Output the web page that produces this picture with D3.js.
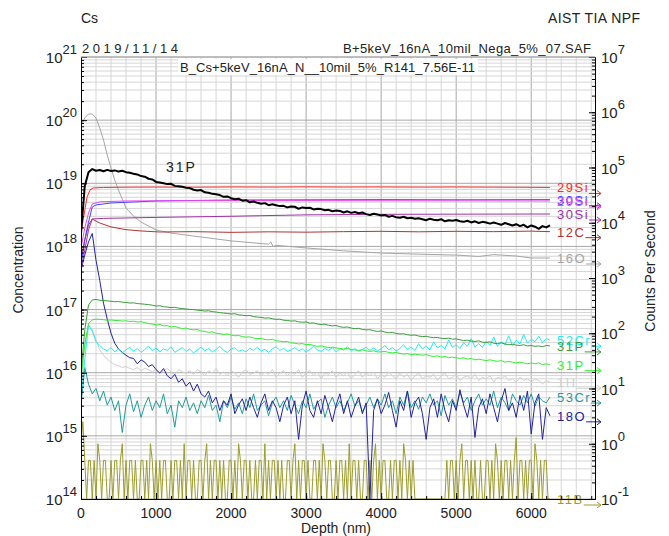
<!DOCTYPE html>
<html>
<head>
<meta charset="utf-8">
<script src="https://cdn.jsdelivr.net/npm/d3@7"></script>
<style>
body { margin: 0; background: #fff; }
text { font-family: "Liberation Sans", Arial, sans-serif; fill: #222; }
</style>
</head>
<body>
<svg id="chart" width="669" height="536"></svg>
<script>
// ---- data ----
// noisy series sampled every 50 nm from 0 to 6250 nm
var gridDepth = d3.range(0, 6251, 50);
// 11B sampled every 25 nm
var boronDepth = d3.range(0, 6251, 25);

// 31P concentration (atoms/cm3), left axis
var p31Conc = [1.6e18, 9e18, 1.5e19, 1.68e19, 1.58e19, 1.62e19, 1.55e19, 1.63e19, 1.57e19, 1.6e19,
  1.54e19, 1.58e19, 1.5e19, 1.47e19, 1.42e19, 1.38e19, 1.3e19, 1.27e19, 1.18e19, 1.15e19,
  1.05e19, 1.03e19, 1.0e19, 9.7e18, 9.8e18, 9.1e18, 9.0e18, 8.8e18, 8.5e18, 8.4e18,
  7.9e18, 7.7e18, 7.8e18, 7.2e18, 7.1e18, 6.8e18, 6.7e18, 6.5e18, 6.1e18, 6.2e18,
  5.8e18, 5.6e18, 5.7e18, 5.3e18, 5.4e18, 5.0e18, 5.15e18, 4.9e18, 4.75e18, 4.85e18,
  4.5e18, 4.65e18, 4.5e18, 4.35e18, 4.4e18, 4.15e18, 4.3e18, 4.25e18, 3.95e18, 4.15e18,
  4.05e18, 4.1e18, 3.85e18, 3.95e18, 3.9e18, 3.75e18, 3.8e18, 3.6e18, 3.7e18, 3.65e18,
  3.45e18, 3.6e18, 3.4e18, 3.5e18, 3.35e18, 3.45e18, 3.25e18, 3.15e18, 3.3e18, 3.2e18,
  3.1e18, 3.15e18, 2.95e18, 3.05e18, 2.9e18, 2.85e18, 2.95e18, 2.8e18, 2.85e18, 2.75e18,
  2.8e18, 2.7e18, 2.6e18, 2.75e18, 2.65e18, 2.6e18, 2.7e18, 2.5e18, 2.6e18, 2.55e18,
  2.62e18, 2.5e18, 2.45e18, 2.55e18, 2.4e18, 2.5e18, 2.35e18, 2.45e18, 2.4e18, 2.3e18,
  2.4e18, 2.3e18, 2.2e18, 2.35e18, 2.25e18, 2.15e18, 2.25e18, 2.1e18, 2.2e18, 2.0e18,
  2.15e18, 2.05e18, 1.9e18, 2.1e18, 2.0e18, 2.15e18];

// counts per second, right axis
var si29aDepth = [0, 40, 80, 120, 160, 300, 600, 1000, 1500, 2000, 2500, 3000, 3500, 4000, 4500, 5000, 5500, 6000, 6250];
var si29a = [6500, 13800, 29000, 39000, 42600, 43500, 44000, 44300, 44000, 44500, 44200, 44600, 44300, 44500, 44200, 44400, 44100, 43800, 43500];

var si30aDepth = [0, 50, 100, 150, 200, 400, 1000, 2000, 3000, 4000, 5000, 6250];
var si30a = [1700, 4900, 10300, 19300, 21000, 22800, 24800, 25800, 26000, 26200, 26000, 26200];

var si29bDepth = [0, 50, 100, 150, 250, 600, 2000, 4000, 6250];
var si29b = [3500, 8000, 15000, 21900, 23900, 24800, 25300, 25000, 24800];

var si30bDepth = [0, 50, 100, 150, 300, 1000, 2000, 3000, 4000, 5000, 6250];
var si30b = [1400, 3200, 7400, 11700, 12000, 12500, 13100, 13900, 14200, 14300, 14400];

var c12Depth = [0, 50, 100, 150, 200, 250, 400, 600, 800, 1050, 1500, 2000, 2500, 3000, 3500, 4000, 4500, 5000, 5500, 6000, 6250];
var c12 = [2100, 4900, 9100, 11700, 10700, 9900, 8400, 7500, 7100, 6800, 6900, 6700, 6850, 6750, 6900, 7000, 6850, 7000, 6900, 7050, 6900];

var o16Depth = [0, 50, 100, 150, 200, 250, 300, 350, 400, 450, 500, 600, 700, 800, 1000, 1200, 1500, 2000, 2400, 2500,
  2530, 2560, 2600, 2800, 3000, 3500, 4000, 4500, 5000, 5300, 5500, 5800, 6000, 6250];
var o16 = [587000, 787000, 929000, 929000, 787000, 519000, 315000, 168000, 98000, 59000, 39000, 18500, 13200, 10300, 7400, 6500, 5750, 4700, 4200, 4100,
  4500, 3700, 3900, 3700, 3500, 3100, 2830, 2700, 2600, 2450, 2650, 2500, 2300, 2300];

var p31a = [19, 115, 324, 400, 410, 395, 392, 385, 380, 372,
  375, 365, 360, 352, 355, 345, 340, 335, 330, 322,
  311, 315, 302, 298, 292, 295, 284, 280, 275, 270,
  268, 262, 258, 252, 255, 246, 242, 236, 232, 228,
  223, 226, 215, 212, 208, 210, 200, 196, 194, 188,
  190, 183, 178, 180, 172, 170, 166, 168, 161, 158,
  160, 152, 154, 147, 144, 146, 139, 136, 138, 131,
  128, 130, 124, 121, 123, 117, 115, 116, 111, 108,
  110, 105, 102, 104, 99, 97, 98, 94, 92, 93,
  89, 87, 88, 85, 83, 84, 81, 80, 82, 78,
  79, 76, 74, 75, 72, 71, 73, 69, 68, 70,
  66, 65, 67, 64, 62, 63, 61, 60, 62, 59,
  60, 58, 59, 57, 60, 59];

var p31b = [16, 62, 150, 174, 180, 178, 176, 172, 174, 170,
  170, 166, 168, 163, 165, 160, 162, 156, 150, 147,
  141, 144, 136, 138, 130, 133, 126, 122, 124, 118,
  115, 117, 110, 108, 104, 106, 100, 98, 95, 97,
  93, 90, 91, 87, 85, 86, 82, 80, 81, 77,
  76, 78, 73, 72, 70, 71, 67, 66, 64, 65,
  62, 63, 60, 58, 59, 57, 55, 56, 54, 53,
  52, 53, 51, 50, 49, 50, 48, 47, 48, 46,
  46, 47, 45, 44, 45, 43, 42, 43, 41, 42,
  41, 40, 41, 39, 38, 39, 37, 38, 36, 37,
  36, 35, 36, 34, 35, 33, 34, 33, 32, 33,
  32, 31, 32, 30, 31, 30, 29, 30, 29, 28,
  29, 28, 29, 27, 28, 27];

var cr52 = [7, 33, 140, 110, 70, 60, 52, 48, 55, 46,
  52, 44, 50, 56, 47, 53, 45, 51, 58, 48,
  54, 46, 52, 49, 57, 45, 50, 55, 47, 52,
  44, 50, 56, 48, 53, 46, 51, 58, 49, 45,
  52, 55, 47, 50, 46, 53, 49, 56, 48, 51,
  45, 52, 57, 49, 53, 47, 50, 55, 48, 52,
  46, 51, 58, 50, 47, 53, 49, 55, 46, 52,
  50, 57, 48, 53, 47, 51, 56, 49, 54, 48,
  52, 60, 50, 55, 48, 53, 62, 51, 56, 49,
  65, 52, 58, 50, 70, 54, 60, 52, 75, 55,
  62, 53, 68, 58, 80, 56, 65, 55, 72, 60,
  85, 58, 70, 62, 90, 60, 75, 64, 95, 66,
  78, 70, 88, 68, 80, 75];

var h1 = [10, 60, 140, 120, 75, 50, 40, 34, 30, 27,
  26, 24, 25, 23, 22, 24, 21, 23, 22, 20,
  22, 19, 21, 23, 20, 18, 22, 20, 19, 21,
  18, 22, 20, 17, 21, 19, 23, 18, 20, 17,
  21, 19, 16, 20, 22, 18, 19, 21, 17, 20,
  18, 22, 16, 19, 21, 17, 20, 18, 22, 16,
  19, 21, 17, 20, 15, 19, 18, 21, 16, 19,
  17, 20, 15, 18, 21, 16, 19, 17, 20, 15,
  18, 16, 20, 17, 15, 19, 16, 18, 14, 17,
  19, 15, 17, 16, 18, 14, 17, 19, 15, 16,
  18, 14, 16, 17, 15, 18, 14, 16, 15, 17,
  13, 16, 15, 17, 14, 15, 13, 16, 14, 15,
  13, 15, 14, 12, 14, 13];

var cr53 = [5, 24, 12, 8, 10, 6, 9, 5, 7, 4,
  6, 1.6, 5, 8, 3.8, 6, 3, 5, 7, 4,
  6, 4.5, 8, 3.5, 5, 2, 6, 4.5, 7, 4,
  5.5, 3.5, 6, 4.5, 7.5, 4, 5, 2.5, 6, 4.5,
  7, 4.2, 5.5, 3.5, 6.5, 4.5, 8, 4, 5, 6,
  3.2, 5.5, 7, 4.5, 6, 4, 7.5, 5, 3.5, 6,
  4.5, 8, 4.2, 5.5, 6.5, 3, 5, 7, 4.5, 6,
  4, 5.5, 8, 4.8, 6, 3.8, 5, 7, 4.5, 6.5,
  5, 8, 4.5, 6, 3.5, 7, 5, 9, 4.5, 6,
  4.2, 7, 5.5, 8, 5, 6, 3.2, 7.5, 5, 6.5,
  4.5, 8.5, 5.5, 7, 4, 6, 8, 5, 6.5, 5,
  9, 4.5, 7, 5.5, 4, 8, 6, 5, 7.5, 5.5,
  8, 4.8, 7, 6, 5.5, 7];

var o18 = [1400, 2600, 4500, 6400, 2100, 900, 350, 180, 100, 66,
  52, 45, 40, 36, 35, 28, 33, 30, 25, 27,
  22, 19, 23, 17, 15, 18, 13, 15, 11, 13,
  9, 12, 8, 7, 9, 5.5, 7, 4, 6, 5,
  8, 3.5, 5, 6.5, 4, 7, 4.5, 3, 5.5, 8,
  4, 6, 4.5, 2.5, 5, 7, 3.5, 6, 1.2, 5,
  9, 4, 3, 6, 3.5, 7.5, 4.5, 2.5, 5, 8,
  3.5, 6, 3, 4.8, 7, 3.5, 5.5, 0, 4, 6.5,
  3.5, 5, 8.5, 4, 2, 6, 4, 9, 3, 5.5,
  7, 3.5, 1.2, 4.5, 6.5, 3, 8, 4, 2.5, 6,
  4, 9.5, 5, 3, 7, 1.3, 4.5, 6.5, 3.5, 8,
  4.5, 2.5, 6, 10, 4, 5.5, 3, 7.5, 4, 9,
  1.5, 5.5, 8, 1.2, 4.5, 3.2];

var b11 = [1, 2.5, .5, 0, .5, .5, 0, .5, 0, 1, .5, 0, .5, .5, 0, 0, .5, 0, .5, .5, 0, .5, 1, 0, .5,
  0, .5, .5, 0, .5, 0, 0, .5, .5, 0, .5, 0, 1, .5, 0, .5, 0, .5, 0, .5, .5, 0, 0, .5, 0,
  .5, .5, 0, .5, 0, 1, 0, .5, .5, 0, .5, 0, 0, .5, .5, 0, .5, 1, 0, .5, 0, .5, .5, 0, .5,
  0, .5, 0, 0, .5, .5, 0, .5, 0, 1, .5, 0, .5, .5, 0, .5, 0, 0, .5, 0, .5, .5, 0, 1, 0,
  .5, 0, .5, .5, 0, .5, 0, .5, 0, 0, .5, .5, 0, .5, 1, 0, .5, 0, .5, .5, 0, .5, 0, 0, .5,
  .5, 0, .5, 0, 1, .5, 0, .5, .5, 0, 0, .5, 0, .5, .5, 0, .5, 0, 1, 0, .5, .5, 0, .5, 0,
  0, .5, .5, 0, .5, 0, .5, 1, 0, .5, 0, .5, .5, 0, 0, .5, 0, .5, .5, 0, .5, 0, 1, .5, 0,
  .5, 0, .5, 0, 0, 0, 0, 0, 0, 0, 0, 0, 0, 0, 0, 0, 0, 0, 0, 0, .5, 0, .5, .5, 0,
  .5, 0, .5, 1, 0, .5, .5, 0, .5, 0, .5, 0, 0, .5, 0, 0, .5, .5, 0, .5, 0, 1, .5, 0, .5,
  0, .5, .5, 0, .5, 0, .5, 1.3, 0, .5, .5, 0, .5, 0, .5, .5, 0, 1, .5, 0, .5, 0, .5, .5, 0, 0];

// right-axis series, in drawing order (bottom first)
var countSeries = [
  {name: "11B", depth: boronDepth, values: b11, color: "#9c9c2c"},
  {name: "1H", depth: gridDepth, values: h1, color: "#cfcfcf"},
  {name: "53Cr", depth: gridDepth, values: cr53, color: "#1f9a9a"},
  {name: "18O", depth: gridDepth, values: o18, color: "#22229a"},
  {name: "52Cr", depth: gridDepth, values: cr52, color: "#22eef0"},
  {name: "31P", depth: gridDepth, values: p31b, color: "#33ee33"},
  {name: "31P", depth: gridDepth, values: p31a, color: "#3c9c3c"},
  {name: "16O", depth: o16Depth, values: o16, color: "#a5a5a5"},
  {name: "12C", depth: c12Depth, values: c12, color: "#b03434"},
  {name: "30Si", depth: si30bDepth, values: si30b, color: "#a030a8"},
  {name: "30Si", depth: si30aDepth, values: si30a, color: "#4444ff"},
  {name: "29Si", depth: si29bDepth, values: si29b, color: "#ee44ee"},
  {name: "29Si", depth: si29aDepth, values: si29a, color: "#ff2a2a"}
];

var xTicks = [0, 1000, 2000, 3000, 4000, 5000, 6000];

// ---- layout ----
var svg = d3.select("#chart");
var plot = {left: 81, right: 595, top: 57, bottom: 499};

var x = d3.scaleLinear().domain([0, 6850]).range([plot.left, plot.right]);
var yL = d3.scaleLog().domain([1e14, 1e21]).range([plot.bottom, plot.top]);
var yR = d3.scaleLog().domain([0.1, 1e7]).range([plot.bottom, plot.top]);

function isDecade(v) {
  var l = Math.log10(v);
  return Math.abs(l - Math.round(l)) < 1e-9;
}

// grid
var grid = svg.append("g");
d3.range(200, 6850, 200).forEach(function (d) {
  grid.append("line")
    .attr("x1", x(d)).attr("x2", x(d))
    .attr("y1", plot.top).attr("y2", plot.bottom)
    .attr("stroke", d % 1000 === 0 ? "#a8a8a8" : "#d6d6d6")
    .attr("stroke-width", 1);
});
yL.ticks().forEach(function (v) {
  grid.append("line")
    .attr("x1", plot.left).attr("x2", plot.right)
    .attr("y1", yL(v)).attr("y2", yL(v))
    .attr("stroke", isDecade(v) ? "#a8a8a8" : "#d6d6d6")
    .attr("stroke-width", 1);
});

// white box behind the sample line
svg.append("rect").attr("x", 178).attr("y", 59).attr("width", 300).attr("height", 16).attr("fill", "#fff");

// series
svg.append("clipPath").attr("id", "clip").append("rect")
  .attr("x", plot.left).attr("y", plot.top - 2)
  .attr("width", plot.right - plot.left).attr("height", plot.bottom - plot.top + 2);
var lines = svg.append("g").attr("clip-path", "url(#clip)");

function addLine(depths, values, yScale, color, width) {
  var lo = yScale.domain()[0];
  var line = d3.line()
    .x(function (d, i) { return x(depths[i]); })
    .y(function (d) { return yScale(Math.max(d, lo)); });
  lines.append("path").datum(values)
    .attr("d", line)
    .attr("fill", "none")
    .attr("stroke", color)
    .attr("stroke-width", width)
    .attr("stroke-linejoin", "round");
}

countSeries.forEach(function (s) {
  addLine(s.depth, s.values, yR, s.color, 1);
});
addLine(gridDepth, p31Conc, yL, "#000", 2);

// series labels with arrows towards the right axis
var labels = svg.append("g");
var arrowEnd = plot.right + 6;
countSeries.forEach(function (s) {
  var last = Math.max(s.values[s.values.length - 1], yR.domain()[0]);
  var yy = yR(last);
  var t = labels.append("text")
    .attr("x", 557).attr("y", yy + 5)
    .attr("font-size", 13).attr("letter-spacing", 1.5)
    .style("fill", s.color)
    .text(s.name);
  var end = 557 + t.node().getComputedTextLength();
  labels.append("path")
    .attr("d", "M" + end + "," + (yy + 6) + "H" + arrowEnd +
      "M" + (arrowEnd - 4) + "," + (yy + 3) + "L" + arrowEnd + "," + (yy + 6) + "L" + (arrowEnd - 4) + "," + (yy + 9))
    .attr("fill", "none").attr("stroke", s.color).attr("stroke-width", 1);
});
svg.append("text").attr("x", 166).attr("y", 172)
  .attr("font-size", 14).attr("letter-spacing", 2).text("31P");

// axes
var minorL = yL.ticks();
svg.append("g").attr("transform", "translate(" + plot.left + ",0)")
  .call(d3.axisLeft(yL).tickValues(minorL).tickSize(-3).tickFormat(""))
  .call(function (g) { g.select(".domain").attr("stroke", "#000"); });
svg.append("g").attr("transform", "translate(" + plot.left + ",0)")
  .call(d3.axisLeft(yL).tickValues(minorL.filter(isDecade)).tickSize(-6).tickFormat(""))
  .call(function (g) { g.select(".domain").remove(); });

var minorR = yR.ticks();
svg.append("g").attr("transform", "translate(" + plot.right + ",0)")
  .call(d3.axisRight(yR).tickValues(minorR).tickSize(-3).tickFormat(""))
  .call(function (g) { g.select(".domain").attr("stroke", "#000"); });
svg.append("g").attr("transform", "translate(" + plot.right + ",0)")
  .call(d3.axisRight(yR).tickValues(minorR.filter(isDecade)).tickSize(-6).tickFormat(""))
  .call(function (g) { g.select(".domain").remove(); });

svg.append("g").attr("transform", "translate(0," + plot.bottom + ")")
  .call(d3.axisBottom(x).tickValues(d3.range(0, 6850, 200)).tickSize(-3).tickFormat(""))
  .call(function (g) { g.select(".domain").attr("stroke", "#000"); });
svg.append("g").attr("transform", "translate(0," + plot.bottom + ")")
  .call(d3.axisBottom(x).tickValues(xTicks).tickSize(-6).tickFormat(""))
  .call(function (g) { g.select(".domain").remove(); });

svg.selectAll(".tick line").attr("stroke", "#000");

// top border
svg.append("line").attr("x1", plot.left).attr("x2", plot.right)
  .attr("y1", plot.top).attr("y2", plot.top).attr("stroke", "#a8a8a8");

// tick labels
function powerLabel(xx, yy, exp, anchor) {
  var t = svg.append("text").attr("x", xx).attr("y", yy)
    .attr("text-anchor", anchor).attr("font-size", 15);
  t.append("tspan").text("10");
  t.append("tspan").attr("dy", -9).attr("font-size", 13).text(exp);
}
minorL.filter(isDecade).forEach(function (v) {
  powerLabel(77, yL(v) + 6, Math.round(Math.log10(v)), "end");
});
minorR.filter(isDecade).forEach(function (v) {
  powerLabel(601, yR(v) + 6, Math.round(Math.log10(v)), "start");
});
xTicks.forEach(function (d) {
  svg.append("text").attr("x", x(d)).attr("y", 518)
    .attr("text-anchor", "middle").attr("font-size", 14).text(d);
});

// axis titles
svg.append("text").attr("x", 336).attr("y", 533)
  .attr("text-anchor", "middle").attr("font-size", 14).text("Depth (nm)");
svg.append("text").attr("transform", "translate(23,270) rotate(-90)")
  .attr("text-anchor", "middle").attr("font-size", 14).text("Concentration");
svg.append("text").attr("transform", "translate(655,271) rotate(-90)")
  .attr("text-anchor", "middle").attr("font-size", 14).text("Counts Per Second");

// header texts
svg.append("text").attr("x", 81).attr("y", 23).attr("font-size", 14).text("Cs");
svg.append("text").attr("x", 640).attr("y", 23).attr("text-anchor", "end").attr("font-size", 14)
  .attr("textLength", 92).attr("lengthAdjust", "spacing").text("AIST TIA NPF");
svg.append("text").attr("x", 82).attr("y", 53).attr("font-size", 13)
  .attr("textLength", 96).attr("lengthAdjust", "spacing").text("2019/11/14");
svg.append("text").attr("x", 343).attr("y", 53).attr("font-size", 13)
  .attr("textLength", 248).attr("lengthAdjust", "spacing").text("B+5keV_16nA_10mil_Nega_5%_07.SAF");
svg.append("text").attr("x", 180).attr("y", 72).attr("font-size", 13)
  .attr("textLength", 295).attr("lengthAdjust", "spacing").text("B_Cs+5keV_16nA_N__10mil_5%_R141_7.56E-11");
</script>
</body>
</html>
